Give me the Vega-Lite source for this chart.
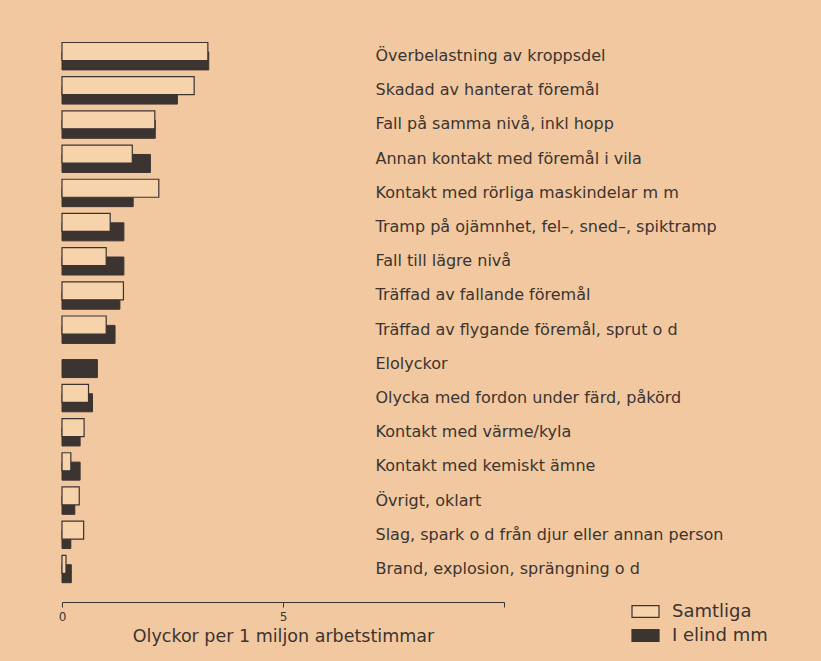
{
  "$schema": "https://vega.github.io/schema/vega-lite/v6.json",
  "autosize": {"type": "none"},
  "padding": {"left": 62, "top": 39, "right": 317, "bottom": 75},
  "width": 442,
  "height": 547,
  "background": "#f2c8a0",
  "config": {
    "view": {"stroke": null},
    "font": "DejaVu Sans",
    "axis": {"labelColor": "#3b3431", "titleColor": "#3b3431", "domainColor": "#3b3431", "tickColor": "#3b3431", "grid": false},
    "legend": {"labelColor": "#3b3431"}
  },
  "data": {
    "values": [
      {"cause": "Överbelastning av kroppsdel", "group": "Samtliga", "value": 3.3},
      {"cause": "Överbelastning av kroppsdel", "group": "I elind mm", "value": 3.32},
      {"cause": "Skadad av hanterat föremål", "group": "Samtliga", "value": 2.99},
      {"cause": "Skadad av hanterat föremål", "group": "I elind mm", "value": 2.61},
      {"cause": "Fall på samma nivå, inkl hopp", "group": "Samtliga", "value": 2.1},
      {"cause": "Fall på samma nivå, inkl hopp", "group": "I elind mm", "value": 2.11},
      {"cause": "Annan kontakt med föremål i vila", "group": "Samtliga", "value": 1.59},
      {"cause": "Annan kontakt med föremål i vila", "group": "I elind mm", "value": 2.0},
      {"cause": "Kontakt med rörliga maskindelar m m", "group": "Samtliga", "value": 2.19},
      {"cause": "Kontakt med rörliga maskindelar m m", "group": "I elind mm", "value": 1.61},
      {"cause": "Tramp på ojämnhet, fel–, sned–, spiktramp", "group": "Samtliga", "value": 1.09},
      {"cause": "Tramp på ojämnhet, fel–, sned–, spiktramp", "group": "I elind mm", "value": 1.4},
      {"cause": "Fall till lägre nivå", "group": "Samtliga", "value": 1.0},
      {"cause": "Fall till lägre nivå", "group": "I elind mm", "value": 1.4},
      {"cause": "Träffad av fallande föremål", "group": "Samtliga", "value": 1.39},
      {"cause": "Träffad av fallande föremål", "group": "I elind mm", "value": 1.31},
      {"cause": "Träffad av flygande föremål, sprut o d", "group": "Samtliga", "value": 1.0},
      {"cause": "Träffad av flygande föremål, sprut o d", "group": "I elind mm", "value": 1.2},
      {"cause": "Elolyckor", "group": "I elind mm", "value": 0.8},
      {"cause": "Olycka med fordon under färd, påkörd", "group": "Samtliga", "value": 0.6},
      {"cause": "Olycka med fordon under färd, påkörd", "group": "I elind mm", "value": 0.69},
      {"cause": "Kontakt med värme/kyla", "group": "Samtliga", "value": 0.5},
      {"cause": "Kontakt med värme/kyla", "group": "I elind mm", "value": 0.41},
      {"cause": "Kontakt med kemiskt ämne", "group": "Samtliga", "value": 0.2},
      {"cause": "Kontakt med kemiskt ämne", "group": "I elind mm", "value": 0.41},
      {"cause": "Övrigt, oklart", "group": "Samtliga", "value": 0.39},
      {"cause": "Övrigt, oklart", "group": "I elind mm", "value": 0.29},
      {"cause": "Slag, spark o d från djur eller annan person", "group": "Samtliga", "value": 0.49},
      {"cause": "Slag, spark o d från djur eller annan person", "group": "I elind mm", "value": 0.2},
      {"cause": "Brand, explosion, sprängning o d", "group": "Samtliga", "value": 0.09},
      {"cause": "Brand, explosion, sprängning o d", "group": "I elind mm", "value": 0.21}
    ]
  },
  "encoding": {
    "y": {
      "field": "cause",
      "type": "nominal",
      "sort": ["Överbelastning av kroppsdel", "Skadad av hanterat föremål", "Fall på samma nivå, inkl hopp", "Annan kontakt med föremål i vila", "Kontakt med rörliga maskindelar m m", "Tramp på ojämnhet, fel–, sned–, spiktramp", "Fall till lägre nivå", "Träffad av fallande föremål", "Träffad av flygande föremål, sprut o d", "Elolyckor", "Olycka med fordon under färd, påkörd", "Kontakt med värme/kyla", "Kontakt med kemiskt ämne", "Övrigt, oklart", "Slag, spark o d från djur eller annan person", "Brand, explosion, sprängning o d"],
      "scale": {"paddingInner": 0, "paddingOuter": 0},
      "axis": {"orient": "right", "offset": -129, "title": null, "domain": false, "ticks": false, "labelPadding": 0, "labelLimit": 600, "labelFontSize": 16, "labelFont": "DejaVu Sans"}
    },
    "x": {
      "field": "value",
      "type": "quantitative",
      "scale": {"domain": [0, 10], "nice": false},
      "axis": {"values": [0, 5, 10], "labelExpr": "datum.value == 10 ? '' : datum.label", "labelFlush": false, "offset": 16, "tickSize": 5, "labelFontSize": 12, "labelPadding": 4, "title": "Olyckor per 1 miljon arbetstimmar", "titleFontSize": 17.5, "titleFontWeight": "normal", "titlePadding": 5}
    },
    "color": {
      "field": "group",
      "type": "nominal",
      "scale": {"domain": ["Samtliga", "I elind mm"], "range": ["#f7d3ac", "#3b3431"]},
      "legend": {"orient": "none", "legendX": 569, "legendY": 558, "title": null, "padding": 0, "symbolType": "M-1,-0.43H1V0.43H-1Z", "symbolSize": 729, "symbolStrokeColor": "#3b3431", "symbolStrokeWidth": 1.2, "symbolOpacity": 1, "labelFontSize": 18, "labelOffset": 12, "rowPadding": 0, "symbolOffset": 0}
    }
  },
  "layer": [
    {
      "transform": [{"filter": "datum.group == 'I elind mm'"}],
      "mark": {"type": "bar", "height": 18, "yOffset": 4.8, "stroke": "#3b3431", "strokeWidth": 1, "opacity": 1}
    },
    {
      "transform": [{"filter": "datum.group == 'Samtliga'"}],
      "mark": {"type": "bar", "height": 18, "yOffset": -4.6, "stroke": "#3b3431", "strokeWidth": 1.2, "opacity": 1}
    }
  ]
}
